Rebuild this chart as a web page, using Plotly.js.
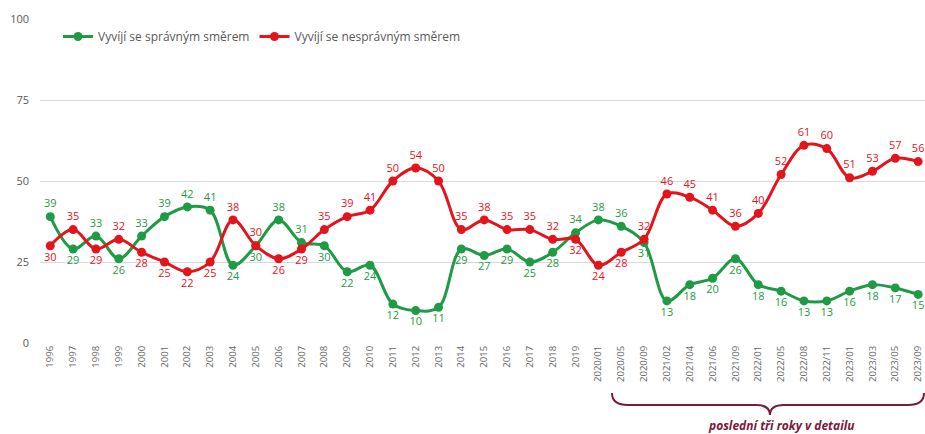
<!DOCTYPE html>
<html>
<head>
<meta charset="utf-8">
<script src="https://cdn.plot.ly/plotly-3.0.1.min.js"></script>
<style>html,body{margin:0;padding:0;background:#fff;}#chart{width:925px;height:434px;}</style>
</head>
<body>
<div id="chart"></div>
<script>
const categories = ["1996","1997","1998","1999","2000","2001","2002","2003","2004","2005","2006","2007","2008","2009","2010","2011","2012","2013","2014","2015","2016","2017","2018","2019","2020/01","2020/05","2020/09","2021/02","2021/04","2021/06","2021/09","2022/01","2022/05","2022/08","2022/11","2023/01","2023/03","2023/05","2023/09"];
const spravnym = [39,29,33,26,33,39,42,41,24,30,38,31,30,22,24,12,10,11,29,27,29,25,28,34,38,36,31,13,18,20,26,18,16,13,13,16,18,17,15];
const nespravnym = [30,35,29,32,28,25,22,25,38,30,26,29,35,39,41,50,54,50,35,38,35,35,32,32,24,28,32,46,45,41,36,40,52,61,60,51,53,57,56];
const seriesNames = ["Vyvíjí se správným směrem","Vyvíjí se nesprávným směrem"];
const noteText = "poslední tři roky v detailu";

const GREEN = "#1f9a45", RED = "#e3141c", MAROON = "#7a1a3c";
const posG = spravnym.map((v,i)=> v > nespravnym[i] ? "top center" : "bottom center");
const posR = nespravnym.map((v,i)=> v >= spravnym[i] ? "top center" : "bottom center");

const L = 40, T = 19, W = 925, H = 434, B = 91;
const plotW = W - L, plotH = H - T - B;
const px = x => (x - L) / plotW;
const py = y => (H - B - y) / plotH;

const brace = `M ${px(612)} ${py(393)} Q ${px(612)} ${py(405)} ${px(628)} ${py(405)} L ${px(756)} ${py(405)} Q ${px(770)} ${py(405)} ${px(770)} ${py(415)} Q ${px(770)} ${py(405)} ${px(784)} ${py(405)} L ${px(908)} ${py(405)} Q ${px(924)} ${py(405)} ${px(924)} ${py(393)}`;

const traces = [
  {x: categories, y: spravnym, name: seriesNames[0], type: "scatter", mode: "lines+markers+text",
   line: {color: GREEN, width: 3, shape: "spline", smoothing: 1}, marker: {color: GREEN, size: 9},
   text: spravnym.map(String), textposition: posG, textfont: {color: GREEN, size: 11, family: "Open Sans"}, cliponaxis: false},
  {x: categories, y: nespravnym, name: seriesNames[1], type: "scatter", mode: "lines+markers+text",
   line: {color: RED, width: 3, shape: "spline", smoothing: 1}, marker: {color: RED, size: 9},
   text: nespravnym.map(String), textposition: posR, textfont: {color: RED, size: 11, family: "Open Sans"}, cliponaxis: false}
];

const layout = {
  width: W, height: H,
  margin: {l: L, r: 0, t: T, b: B},
  paper_bgcolor: "#fff", plot_bgcolor: "#fff",
  font: {family: "Open Sans", color: "#595959"},
  showlegend: true,
  legend: {orientation: "h", x: px(58), y: py(22), xanchor: "left", yanchor: "top",
           font: {size: 12, color: "#595959"}, itemwidth: 30, bgcolor: "rgba(0,0,0,0)"},
  xaxis: {type: "category", range: [-0.45, 38.3], tickangle: -90, tickfont: {size: 9.5, color: "#666"},
          showgrid: false, showline: false, zeroline: false, ticks: "", fixedrange: true},
  yaxis: {range: [0, 100], tickvals: [0,25,50,75,100], showgrid: true, gridcolor: "#d9d9d9", gridwidth: 1,
          zeroline: false, showline: false, ticks: "", ticklabelstandoff: 10, tickfont: {size: 11, color: "#595959"}},
  shapes: [
    {type: "path", xref: "paper", yref: "paper", path: brace, line: {color: MAROON, width: 2}}
  ],
  annotations: [
    {xref: "paper", yref: "paper", x: px(781), y: py(425), text: "<i><b>" + noteText + "</b></i>", showarrow: false,
     font: {size: 12, color: MAROON, family: "Open Sans"}, xanchor: "center", yanchor: "middle"}
  ]
};

Plotly.newPlot("chart", traces, layout, {displayModeBar: false, staticPlot: true});
</script>
</body>
</html>
